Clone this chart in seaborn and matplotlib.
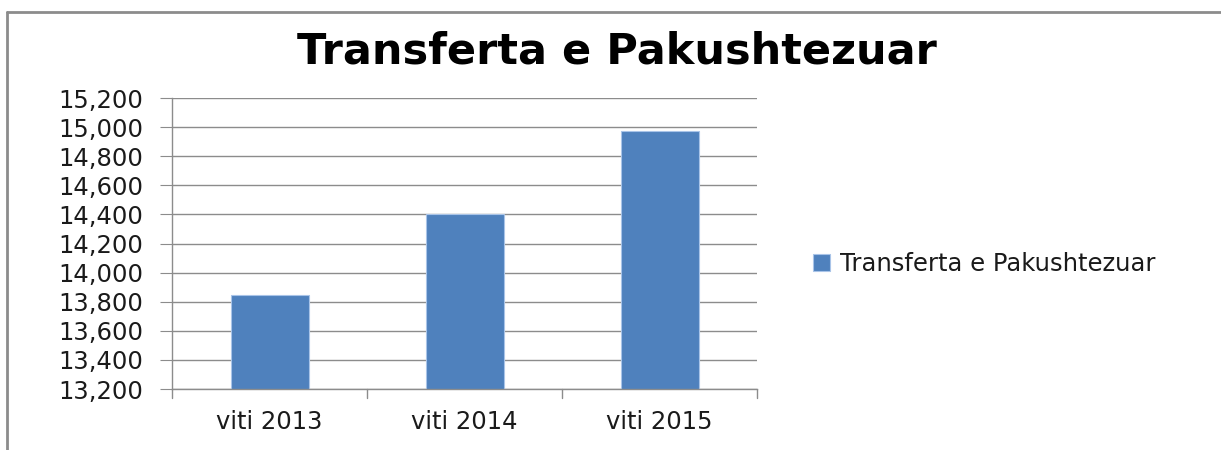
import matplotlib
matplotlib.use("Agg")
import matplotlib.pyplot as plt
from matplotlib.lines import Line2D
from matplotlib.ticker import FuncFormatter, MultipleLocator
import seaborn as sns
import pandas as pd

categories = ["viti 2013", "viti 2014", "viti 2015"]
values = [13845, 14400, 14975]
series_name = "Transferta e Pakushtezuar"
title = "Transferta e Pakushtezuar"

sns.set_style("white")
plt.rcParams["font.family"] = ["DejaVu Sans"]

df = pd.DataFrame({"cat": categories, "val": values, "series": series_name})

fig = plt.figure(figsize=(12.21, 4.5), dpi=100)
ax = fig.add_axes([172/1221, 1-389/450, (757-172)/1221, (389-98)/450])

sns.barplot(data=df, x="cat", y="val", hue="series", palette=["#4f81bd"],
            width=0.40, ax=ax, edgecolor="#a9c4e8", linewidth=0.8, saturation=1)

ax.set_ylim(13200, 15200)
ax.yaxis.set_major_locator(MultipleLocator(200))
ax.yaxis.set_major_formatter(FuncFormatter(lambda v, p: f"{int(round(v)):,}"))
ax.grid(axis="y", color="#8c8c8c", linewidth=1.0)
ax.set_axisbelow(True)
ax.set_xlabel("")
ax.set_ylabel("")
for s in ["top", "right"]:
    ax.spines[s].set_visible(False)
for s in ["left", "bottom"]:
    ax.spines[s].set_color("#8c8c8c")
    ax.spines[s].set_linewidth(1.0)
ax.tick_params(axis="y", length=8.6, color="#8c8c8c", labelsize=17.5, pad=12,
               left=True, direction="out", labelcolor="#1a1a1a")
ax.tick_params(axis="x", length=0, labelsize=17.5, pad=15, labelcolor="#1a1a1a")
ax.set_xticks([0, 1, 2])
ax.set_xticklabels(categories)
for xs in [-0.5, 0.5, 1.5, 2.5]:
    ax.plot([xs, xs], [0, -0.03], transform=ax.get_xaxis_transform(), color="#8c8c8c",
            lw=1.0, clip_on=False)
ax.set_xlim(-0.5, 2.5)

fig.text(617/1221, 1-63/450, title, ha="center", va="baseline", fontsize=31,
         fontweight="bold", color="black")

leg = ax.legend(loc="center left", bbox_to_anchor=(1.058, 0.43), frameon=False, fontsize=17.5,
                handlelength=0.7, handleheight=0.7, handletextpad=0.4)
for t in leg.get_texts():
    t.set_color("#1a1a1a")

fig.add_artist(Line2D([7/1221, 1], [1-12/450, 1-12/450], color="#8c8c8c", lw=2.0))
fig.add_artist(Line2D([7/1221, 7/1221], [0, 1-12/450], color="#8c8c8c", lw=2.0))

fig.savefig("out.png", dpi=100, facecolor="white")
